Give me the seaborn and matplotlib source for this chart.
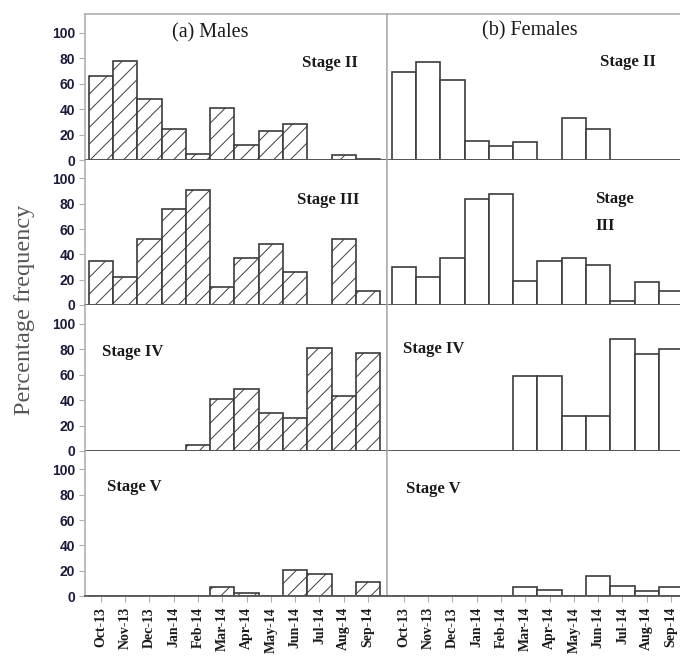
import numpy as np
import pandas as pd
import matplotlib
matplotlib.use("Agg")
import matplotlib.pyplot as plt
import seaborn as sns

months = ["Oct-13", "Nov-13", "Dec-13", "Jan-14", "Feb-14", "Mar-14",
          "Apr-14", "May-14", "Jun-14", "Jul-14", "Aug-14", "Sep-14"]

male_stage2 = [66, 78, 48, 24.5, 5, 41, 12, 23, 28.5, 0, 4, 1]
male_stage3 = [34.5, 22, 52, 75.5, 91, 14, 37, 48, 26, 0, 52, 11]
male_stage4 = [0, 0, 0, 0, 5, 41, 49, 30, 26, 81, 43, 77]
male_stage5 = [0, 0, 0, 0, 0, 7, 2.5, 0, 20.5, 17.5, 0, 11]

female_stage2 = [69, 77, 63, 15, 11, 14, 0, 33, 24, 0, 0, 0]
female_stage3 = [30, 22, 37, 84, 88, 19, 34.5, 37, 31.5, 3, 18, 11]
female_stage4 = [0, 0, 0, 0, 0, 59, 59, 27.5, 27.5, 88, 76, 80]
female_stage5 = [0, 0, 0, 0, 0, 7, 5, 0, 16, 8, 4, 7]

yticks = [0, 20, 40, 60, 80, 100]

sns.set_style("white")
plt.rcParams["hatch.linewidth"] = 0.7

W, H = 680, 657
fig = plt.figure(figsize=(W / 100, H / 100), dpi=100)

row_edges = [14, 160, 305, 451, 596]
col_edges = [(85, 387, (-0.65, 11.78)), (387, 680, (-0.69, 11.37))]

male_rows = [male_stage2, male_stage3, male_stage4, male_stage5]
female_rows = [female_stage2, female_stage3, female_stage4, female_stage5]

frame_col = "#b0b0b0"
edge_col = "#3c3c3c"

for c, (x0, x1, xl) in enumerate(col_edges):
    rows = male_rows if c == 0 else female_rows
    for r in range(4):
        top, bot = row_edges[r], row_edges[r + 1]
        ax = fig.add_axes([x0 / W, 1 - bot / H, (x1 - x0) / W, (bot - top) / H])
        df = pd.DataFrame({"month": months, "pct": rows[r]})
        kw = dict(hatch="//") if c == 0 else {}
        sns.barplot(data=df, x="month", y="pct", order=months, ax=ax,
                    color="white", edgecolor=edge_col, linewidth=1.2,
                    width=1.0, saturation=1, errorbar=None, **kw)
        for p in ax.patches:
            p.set_facecolor("white")
        ax.set_xlim(*xl)
        ax.set_ylim(0, 114.6)
        ax.set_xlabel("")
        ax.set_ylabel("")
        for s in ["left", "top", "right"]:
            ax.spines[s].set_color(frame_col)
            ax.spines[s].set_linewidth(1.2)
        ax.spines["top"].set_visible(r == 0)
        ax.spines["right"].set_visible(c == 0)
        ax.spines["bottom"].set_color("#555555")
        ax.spines["bottom"].set_linewidth(1.3)
        if c == 0:
            ax.set_yticks(yticks)
            ax.set_yticklabels([str(t) for t in yticks], fontsize=10,
                               fontweight="bold", color="#1a1a3a",
                               family="Liberation Sans")
            ax.tick_params(axis="y", left=True, length=4, width=0.8,
                           color=frame_col, pad=3)
        else:
            ax.set_yticks([])
        if r == 3:
            ax.set_xticks(range(len(months)))
            ax.set_xticklabels(months, rotation=90, fontsize=10,
                               fontweight="bold", family="Liberation Serif",
                               color="#1a1a1a")
            ax.tick_params(axis="x", bottom=True, length=4, width=0.8,
                           color=frame_col, pad=4)
        else:
            ax.set_xticks([])


def ftext(x, y, s, size=12, weight="bold", ha="center", **kw):
    fig.text(x / W, 1 - y / H, s, fontsize=size, fontweight=weight,
             family="Liberation Serif", ha=ha, va="center",
             color=kw.pop("color", "#1a1a1a"), **kw)


ftext(210, 33, "(a) Males", size=14.5, weight="normal")
ftext(530, 31, "(b) Females", size=14.5, weight="normal")
ftext(330, 63, "Stage II")
ftext(628, 62, "Stage II")
ftext(328, 200, "Stage III")
ftext(595, 199, "Stage", ha="left")
ftext(595, 226, "III", ha="left")
ftext(133, 352, "Stage IV")
ftext(434, 349, "Stage IV")
ftext(134, 487, "Stage V")
ftext(433, 489, "Stage V")

fig.text(25 / W, 1 - 310 / H, "Percentage frequency", rotation=90,
         fontsize=17.5, family="Liberation Serif", color="#555555",
         ha="center", va="center")

fig.savefig("out.png", dpi=100)
